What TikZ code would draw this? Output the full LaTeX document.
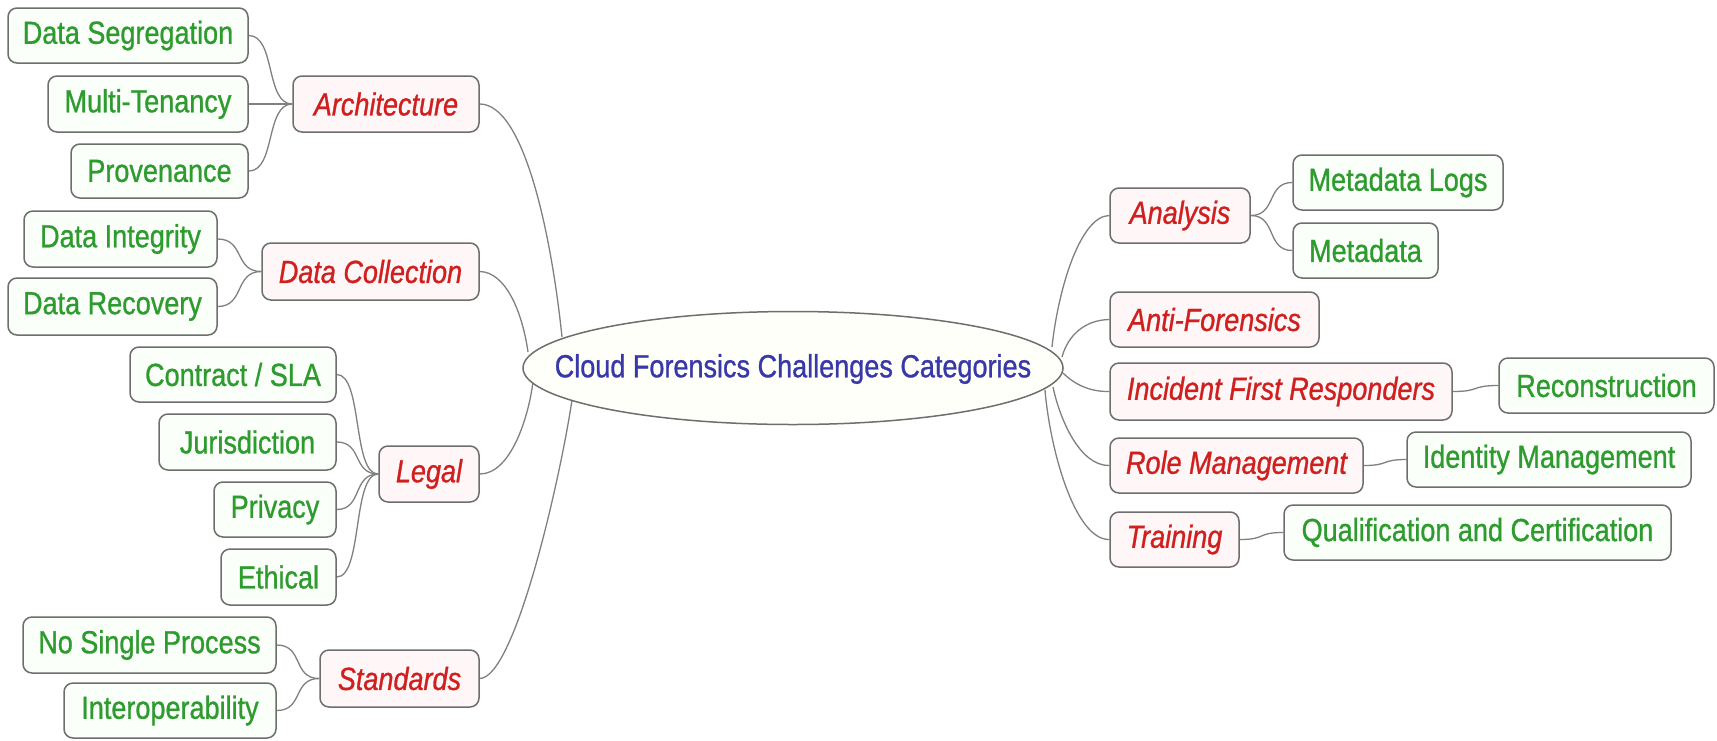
\documentclass[tikz,border=0pt]{standalone}
\usepackage{fontspec}
\setmainfont{Liberation Sans}[FakeStretch=0.845,FakeBold=0.9]
\usetikzlibrary{shapes.geometric}
\definecolor{gtext}{HTML}{2E9B2E}
\definecolor{rtext}{HTML}{D01F1F}
\definecolor{btext}{HTML}{3838A8}
\definecolor{edgec}{HTML}{6E6E6E}
\definecolor{linkc}{HTML}{808080}
\pgfdeclarelayer{bg}
\pgfsetlayers{bg,main}
\begin{document}
\begin{tikzpicture}[x=1pt,y=-1pt,
  sz/.style 2 args={minimum width=#1pt, minimum height=#2pt},
  box/.style={draw=edgec, line width=1.5pt, rounded corners=9pt, inner sep=0pt},
  gbox/.style={box, fill=green!2, text=gtext, font=\fontsize{32}{38}\selectfont},
  rbox/.style={box, fill=red!3, text=rtext, font=\fontsize{32}{38}\selectfont\itshape},
  lnk/.style={draw=linkc, line width=1.3pt}]
\useasboundingbox (0,0) rectangle (1717,740);

% centre
\node[ellipse, draw=edgec, line width=1.5pt, fill=yellow!2, sz={540}{113}, inner sep=0pt] (cc) at (793,368) {};
\node[text=btext, font=\fontsize{32}{38}\selectfont, inner sep=0pt] (cct) at (793,369) {Cloud Forensics Challenges Categories};

% left categories
\node[rbox, sz={186}{56}] (ar) at (386,104) {Architecture};
\node[rbox, sz={217}{57}] (dc) at (370.5,271.5) {Data Collection};
\node[rbox, sz={100}{56}] (lg) at (429,474) {Legal};
\node[rbox, sz={159}{57}] (st) at (399.5,678.5) {Standards};

% left leaves
\node[gbox, sz={240}{55}] (ds) at (128,35.5) {Data Segregation};
\node[gbox, sz={200}{56}] (mt) at (148,104) {Multi-Tenancy};
\node[gbox, sz={177}{54}] (pv) at (159.5,171) {Provenance};
\node[gbox, sz={193}{56}] (di) at (120.5,239) {Data Integrity};
\node[gbox, sz={209}{57}] (dr) at (112.5,306.5) {Data Recovery};
\node[gbox, sz={206}{55}] (cs) at (233,374.5) {Contract / SLA};
\node[gbox, sz={177}{56}] (ju) at (247.5,442) {Jurisdiction};
\node[gbox, sz={122}{55}] (pr) at (275,509.5) {Privacy};
\node[gbox, sz={115}{56}] (et) at (278.5,577) {Ethical};
\node[gbox, sz={253}{56}] (ns) at (149.5,645) {No Single Process};
\node[gbox, sz={212}{55}] (io) at (170,710.5) {Interoperability};

% right categories
\node[rbox, sz={140}{55}] (an) at (1180,215.5) {Analysis};
\node[rbox, sz={209}{55}] (af) at (1214.5,319.5) {Anti-Forensics};
\node[rbox, sz={342}{57}] (ic) at (1281,391.5) {Incident First Responders};
\node[rbox, sz={253}{55}] (rm) at (1236.5,465.5) {Role Management};
\node[rbox, sz={129}{55}] (tr) at (1174.5,539.5) {Training};

% right leaves
\node[gbox, sz={210}{55}] (ml) at (1398,182.5) {Metadata Logs};
\node[gbox, sz={145}{55}] (md) at (1365.5,250.5) {Metadata};
\node[gbox, sz={215}{55}] (rc) at (1606.5,385.5) {Reconstruction};
\node[gbox, sz={284}{55}] (im) at (1549,459.5) {Identity Management};
\node[gbox, sz={387}{55}] (qc) at (1477.5,532.5) {Qualification and Certification};

\begin{pgfonlayer}{bg}
\fill[white] (0,0) rectangle (1717,740);
% centre to left categories
\coordinate (ea) at (562,337);
\coordinate (eb) at (528,352);
\coordinate (ec) at (533,382);
\coordinate (ed) at (572,400);
\draw[lnk] (ar.east) .. controls (525,104) and (552,240) .. (ea);
\draw[lnk] (dc.east) .. controls (505,272) and (522,310) .. (eb);
\draw[lnk] (lg.east) .. controls (510,474) and (528,420) .. (ec);
\draw[lnk] (st.east) .. controls (515,678) and (560,480) .. (ed);
% centre to right categories
\coordinate (ra) at (1052,347);
\coordinate (rb) at (1062,357);
\coordinate (rcc) at (1063,373);
\coordinate (rd) at (1053,387);
\coordinate (re) at (1045,390);
\draw[lnk] (an.west) .. controls (1080,216) and (1058,290) .. (ra);
\draw[lnk] (af.west) .. controls (1085,320) and (1068,335) .. (rb);
\draw[lnk] (ic.west) .. controls (1085,392) and (1070,380) .. (rcc);
\draw[lnk] (rm.west) .. controls (1080,466) and (1060,420) .. (rd);
\draw[lnk] (tr.west) .. controls (1075,540) and (1050,450) .. (re);
% left leaves
\foreach \c in {ds,mt,pv} \draw[lnk] (\c.east) .. controls +(27,0) and +(-27,0) .. (ar.west);
\foreach \c in {di,dr} \draw[lnk] (\c.east) .. controls +(27,0) and +(-27,0) .. (dc.west);
\foreach \c in {cs,ju,pr,et} \draw[lnk] (\c.east) .. controls +(26,0) and +(-26,0) .. (lg.west);
\foreach \c in {ns,io} \draw[lnk] (\c.east) .. controls +(27,0) and +(-27,0) .. (st.west);
% right leaves
\foreach \c in {ml,md} \draw[lnk] (an.east) .. controls +(26,0) and +(-26,0) .. (\c.west);
\draw[lnk] (ic.east) .. controls +(28,0) and +(-28,0) .. (rc.west);
\draw[lnk] (rm.east) .. controls +(26,0) and +(-26,0) .. (im.west);
\draw[lnk] (tr.east) .. controls +(27,0) and +(-27,0) .. (qc.west);
\end{pgfonlayer}
\end{tikzpicture}
\end{document}
